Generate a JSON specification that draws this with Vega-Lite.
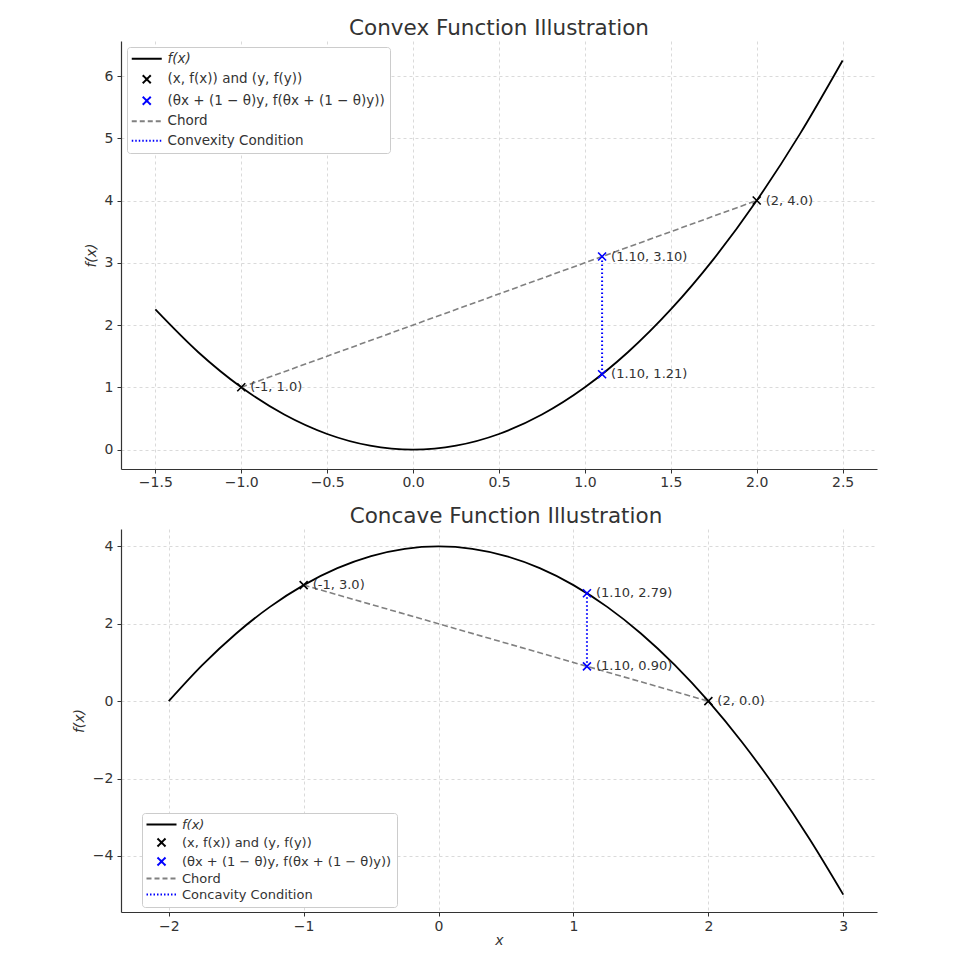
{
  "$schema": "https://vega.github.io/schema/vega-lite/v6.json",
  "background": "white",
  "padding": {"top": 17, "left": 72, "right": 10, "bottom": 10},
  "spacing": 16,
  "datasets": {
    "curveTop": [
      {"x": -1.5, "y": 2.25, "series": "f(x)"}, {"x": -1.25, "y": 1.5625, "series": "f(x)"},
      {"x": -1.0, "y": 1.0, "series": "f(x)"}, {"x": -0.75, "y": 0.5625, "series": "f(x)"},
      {"x": -0.5, "y": 0.25, "series": "f(x)"}, {"x": -0.25, "y": 0.0625, "series": "f(x)"},
      {"x": 0.0, "y": 0.0, "series": "f(x)"}, {"x": 0.25, "y": 0.0625, "series": "f(x)"},
      {"x": 0.5, "y": 0.25, "series": "f(x)"}, {"x": 0.75, "y": 0.5625, "series": "f(x)"},
      {"x": 1.0, "y": 1.0, "series": "f(x)"}, {"x": 1.25, "y": 1.5625, "series": "f(x)"},
      {"x": 1.5, "y": 2.25, "series": "f(x)"}, {"x": 1.75, "y": 3.0625, "series": "f(x)"},
      {"x": 2.0, "y": 4.0, "series": "f(x)"}, {"x": 2.25, "y": 5.0625, "series": "f(x)"},
      {"x": 2.5, "y": 6.25, "series": "f(x)"}
    ],
    "chordTop": [
      {"x": -1, "y": 1.0, "series": "Chord"}, {"x": 2, "y": 4.0, "series": "Chord"}
    ],
    "condTop": [
      {"x": 1.1, "y": 3.1, "series": "Convexity Condition"}, {"x": 1.1, "y": 1.21, "series": "Convexity Condition"}
    ],
    "ptsTop": [
      {"x": -1, "y": 1.0, "series": "(x, f(x)) and (y, f(y))", "label": "(-1, 1.0)"},
      {"x": 2, "y": 4.0, "series": "(x, f(x)) and (y, f(y))", "label": "(2, 4.0)"},
      {"x": 1.1, "y": 3.1, "series": "(θx + (1 − θ)y, f(θx + (1 − θ)y))", "label": "(1.10, 3.10)"},
      {"x": 1.1, "y": 1.21, "series": "(θx + (1 − θ)y, f(θx + (1 − θ)y))", "label": "(1.10, 1.21)"}
    ],
    "curveBot": [
      {"x": -2.0, "y": 0.0, "series": "f(x)"}, {"x": -1.75, "y": 0.9375, "series": "f(x)"},
      {"x": -1.5, "y": 1.75, "series": "f(x)"}, {"x": -1.25, "y": 2.4375, "series": "f(x)"},
      {"x": -1.0, "y": 3.0, "series": "f(x)"}, {"x": -0.75, "y": 3.4375, "series": "f(x)"},
      {"x": -0.5, "y": 3.75, "series": "f(x)"}, {"x": -0.25, "y": 3.9375, "series": "f(x)"},
      {"x": 0.0, "y": 4.0, "series": "f(x)"}, {"x": 0.25, "y": 3.9375, "series": "f(x)"},
      {"x": 0.5, "y": 3.75, "series": "f(x)"}, {"x": 0.75, "y": 3.4375, "series": "f(x)"},
      {"x": 1.0, "y": 3.0, "series": "f(x)"}, {"x": 1.25, "y": 2.4375, "series": "f(x)"},
      {"x": 1.5, "y": 1.75, "series": "f(x)"}, {"x": 1.75, "y": 0.9375, "series": "f(x)"},
      {"x": 2.0, "y": 0.0, "series": "f(x)"}, {"x": 2.25, "y": -1.0625, "series": "f(x)"},
      {"x": 2.5, "y": -2.25, "series": "f(x)"}, {"x": 2.75, "y": -3.5625, "series": "f(x)"},
      {"x": 3.0, "y": -5.0, "series": "f(x)"}
    ],
    "chordBot": [
      {"x": -1, "y": 3.0, "series": "Chord"}, {"x": 2, "y": 0.0, "series": "Chord"}
    ],
    "condBot": [
      {"x": 1.1, "y": 2.79, "series": "Concavity Condition"}, {"x": 1.1, "y": 0.9, "series": "Concavity Condition"}
    ],
    "ptsBot": [
      {"x": -1, "y": 3.0, "series": "(x, f(x)) and (y, f(y))", "label": "(-1, 3.0)"},
      {"x": 2, "y": 0.0, "series": "(x, f(x)) and (y, f(y))", "label": "(2, 0.0)"},
      {"x": 1.1, "y": 2.79, "series": "(θx + (1 − θ)y, f(θx + (1 − θ)y))", "label": "(1.10, 2.79)"},
      {"x": 1.1, "y": 0.9, "series": "(θx + (1 − θ)y, f(θx + (1 − θ)y))", "label": "(1.10, 0.90)"}
    ]
  },
  "resolve": {"scale": {"color": "independent", "x": "independent", "y": "independent"}, "legend": {"color": "independent"}},
  "vconcat": [
    {
      "title": "Convex Function Illustration",
      "width": 756,
      "height": 428,
      "encoding": {
        "x": {"field": "x", "type": "quantitative", "scale": {"domain": [-1.7, 2.7], "nice": false, "zero": false},
              "axis": {"title": null, "values": [-1.5, -1, -0.5, 0, 0.5, 1, 1.5, 2, 2.5], "format": ".1f", "labelPadding": 2}},
        "y": {"field": "y", "type": "quantitative", "scale": {"domain": [-0.3125, 6.5625], "nice": false, "zero": false},
              "axis": {"title": "f(x)", "values": [0, 1, 2, 3, 4, 5, 6], "format": "d", "titlePadding": 6}},
        "color": {"field": "series", "type": "nominal",
          "scale": {"domain": ["f(x)", "(x, f(x)) and (y, f(y))", "(θx + (1 − θ)y, f(θx + (1 − θ)y))", "Chord", "Convexity Condition"],
                    "range": ["black", "black", "blue", "gray", "blue"]},
          "legend": {"orient": "top-left", "offset": 6, "title": null,
            "encode": {
              "symbols": {"update": {
                "shape": {"signal": "datum.index == 1 || datum.index == 2 ? 'M-0.8,-0.8L0.8,0.8M-0.8,0.8L0.8,-0.8' : 'M-3,0L3,0'"},
                "stroke": {"signal": "['black','black','blue','gray','blue'][datum.index]"},
                "fill": {"value": "transparent"},
                "strokeDash": {"signal": "datum.index == 3 ? [5,3] : datum.index == 4 ? [1.5,2] : [1,0]"},
                "strokeWidth": {"signal": "datum.index == 1 || datum.index == 2 ? 2 : 1.8"},
                "size": {"value": 100}
              }},
              "labels": {"update": {"fontStyle": {"signal": "datum.index == 0 ? 'italic' : 'normal'"}}}
            }}
        }
      },
      "layer": [
        {"data": {"name": "curveTop"}, "mark": {"type": "line", "strokeWidth": 1.8, "interpolate": "monotone"}},
        {"data": {"name": "chordTop"}, "mark": {"type": "line", "strokeWidth": 1.6, "strokeDash": [6, 3]}},
        {"data": {"name": "condTop"}, "mark": {"type": "line", "strokeWidth": 2, "strokeDash": [1.5, 2.5]}},
        {"data": {"name": "ptsTop"}, "mark": {"type": "point", "filled": false, "shape": "M-1,-1L1,1M-1,1L1,-1", "size": 64, "strokeWidth": 1.6, "opacity": 1}},
        {"data": {"name": "ptsTop"}, "mark": {"type": "text", "align": "left", "baseline": "middle", "dx": 9, "fontSize": 13},
         "encoding": {"text": {"field": "label"}, "color": {"value": "#333333"}}}
      ]
    },
    {
      "title": {"text": "Concave Function Illustration", "dx": 7},
      "width": 756,
      "height": 383,
      "encoding": {
        "x": {"field": "x", "type": "quantitative", "scale": {"domain": [-2.354, 3.25], "nice": false, "zero": false},
              "axis": {"title": "x", "titleFontStyle": "italic", "titlePadding": 0, "labelPadding": 3, "values": [-2, -1, 0, 1, 2, 3], "format": "d"}},
        "y": {"field": "y", "type": "quantitative", "scale": {"domain": [-5.45, 4.45], "nice": false, "zero": false},
              "axis": {"title": "f(x)", "values": [-4, -2, 0, 2, 4], "format": "d", "titlePadding": 6}},
        "color": {"field": "series", "type": "nominal",
          "scale": {"domain": ["f(x)", "(x, f(x)) and (y, f(y))", "(θx + (1 − θ)y, f(θx + (1 − θ)y))", "Chord", "Concavity Condition"],
                    "range": ["black", "black", "blue", "gray", "blue"]},
          "legend": {"orient": "none", "legendX": 21, "legendY": 284, "title": null, "labelFontSize": 13, "rowPadding": 2,
            "encode": {
              "symbols": {"update": {
                "shape": {"signal": "datum.index == 1 || datum.index == 2 ? 'M-0.8,-0.8L0.8,0.8M-0.8,0.8L0.8,-0.8' : 'M-3,0L3,0'"},
                "stroke": {"signal": "['black','black','blue','gray','blue'][datum.index]"},
                "fill": {"value": "transparent"},
                "strokeDash": {"signal": "datum.index == 3 ? [5,3] : datum.index == 4 ? [1.5,2] : [1,0]"},
                "strokeWidth": {"signal": "datum.index == 1 || datum.index == 2 ? 2 : 1.8"},
                "size": {"value": 100}
              }},
              "labels": {"update": {"fontStyle": {"signal": "datum.index == 0 ? 'italic' : 'normal'"}}}
            }}
        }
      },
      "layer": [
        {"data": {"name": "curveBot"}, "mark": {"type": "line", "strokeWidth": 1.8, "interpolate": "monotone"}},
        {"data": {"name": "chordBot"}, "mark": {"type": "line", "strokeWidth": 1.6, "strokeDash": [6, 3]}},
        {"data": {"name": "condBot"}, "mark": {"type": "line", "strokeWidth": 2, "strokeDash": [1.5, 2.5]}},
        {"data": {"name": "ptsBot"}, "mark": {"type": "point", "filled": false, "shape": "M-1,-1L1,1M-1,1L1,-1", "size": 64, "strokeWidth": 1.6, "opacity": 1}},
        {"data": {"name": "ptsBot"}, "mark": {"type": "text", "align": "left", "baseline": "middle", "dx": 9, "fontSize": 13},
         "encoding": {"text": {"field": "label"}, "color": {"value": "#333333"}}}
      ]
    }
  ],
  "config": {
    "font": "DejaVu Sans",
    "view": {"stroke": null},
    "axis": {
      "grid": true, "gridDash": [3, 3], "gridColor": "#d0d0d0", "gridWidth": 0.8,
      "domainColor": "#333333", "domainWidth": 1.2, "tickColor": "#333333", "tickSize": 4,
      "labelFontSize": 14, "labelColor": "#333333", "labelPadding": 4,
      "titleFontSize": 14, "titleColor": "#333333", "titleFontWeight": "normal", "titleFontStyle": "italic"
    },
    "title": {"fontSize": 21.5, "fontWeight": "normal", "color": "#333333", "offset": 2},
    "legend": {
      "fillColor": "white", "strokeColor": "#cccccc", "cornerRadius": 3, "padding": 5,
      "labelFontSize": 13.5, "labelColor": "#333333", "symbolSize": 100, "symbolOffset": 8, "labelOffset": 14,
      "rowPadding": 4.5, "labelLimit": 400
    }
  }
}
